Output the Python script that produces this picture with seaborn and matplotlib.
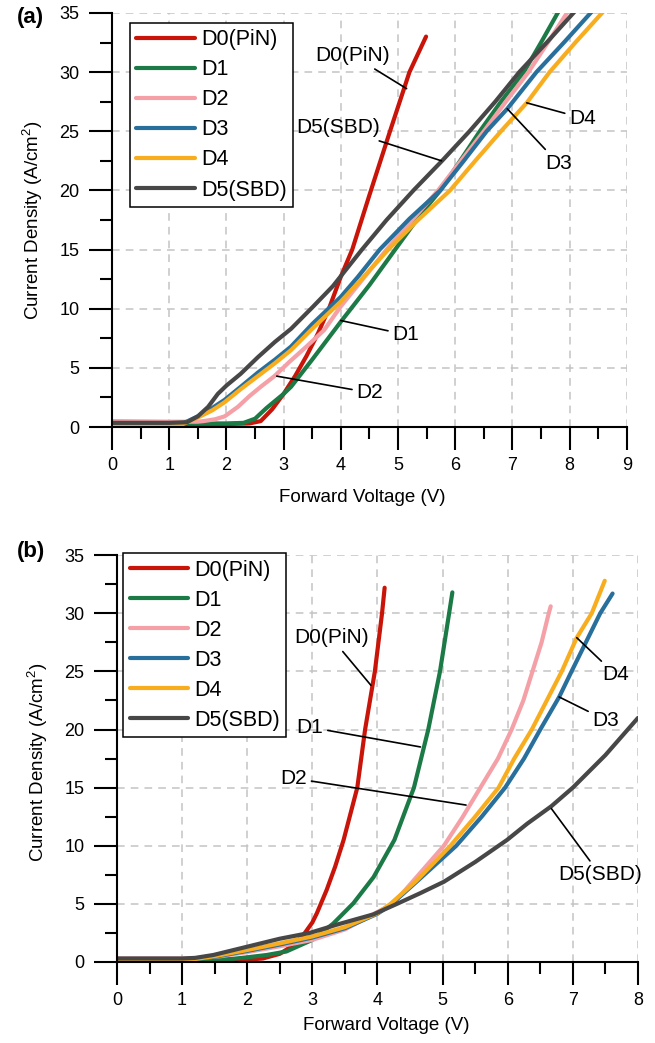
import numpy as np
import pandas as pd
import matplotlib
matplotlib.use("Agg")
import matplotlib.pyplot as plt
from matplotlib.ticker import MultipleLocator
import seaborn as sns

# ---------------- data: panel (a) ----------------
devices = ["D0(PiN)", "D1", "D2", "D3", "D4", "D5(SBD)"]
colors = ["#c81409", "#1b7a45", "#f4a0a6", "#28709b", "#f8ad1f", "#474747"]

a_D0_V = [0, 0.5, 1.0, 1.5, 2.0, 2.4, 2.6, 2.8, 3.0, 3.2, 3.4, 3.6, 3.8, 4.0, 4.2, 4.5, 4.86, 5.2, 5.49]
a_D0_J = [0.25, 0.25, 0.25, 0.25, 0.25, 0.3, 0.5, 1.5, 2.8, 4.3, 6.0, 7.9, 10.1, 12.7, 15.0, 19.6, 25.0, 30.0, 33.0]

a_D1_V = [0, 1.0, 2.0, 2.3, 2.5, 2.7, 3.0, 3.13, 3.5, 4.0, 4.5, 4.95, 5.4, 5.74, 6.1, 6.43, 6.8, 7.2, 7.5, 7.85]
a_D1_J = [0.3, 0.3, 0.3, 0.35, 0.7, 1.6, 2.8, 3.4, 5.7, 8.9, 12.0, 15.0, 18.0, 20.0, 22.6, 25.0, 27.5, 30.0, 32.5, 35.5]

a_D2_V = [0, 1.0, 1.5, 1.6, 1.8, 1.97, 2.2, 2.4, 2.6, 2.84, 3.1, 3.4, 3.71, 4.0, 4.4, 4.8, 5.25, 5.7, 6.1, 6.5, 6.9, 7.28, 7.62, 8.02]
a_D2_J = [0.5, 0.45, 0.45, 0.5, 0.65, 0.9, 1.7, 2.6, 3.4, 4.3, 5.5, 6.8, 8.2, 10.2, 12.6, 15.0, 17.5, 20.0, 22.5, 25.0, 27.6, 30.0, 32.5, 35.5]

a_D3_V = [0, 1.0, 1.24, 1.5, 1.75, 1.97, 2.25, 2.55, 2.85, 3.13, 3.5, 4.0, 4.3, 4.68, 5.2, 5.74, 6.15, 6.55, 6.91, 7.42, 7.9, 8.46]
a_D3_J = [0.2, 0.2, 0.3, 0.9, 1.6, 2.3, 3.4, 4.6, 5.7, 6.8, 8.7, 11.0, 12.7, 15.0, 17.6, 20.0, 22.5, 25.0, 26.9, 30.0, 32.5, 35.5]

a_D4_V = [0, 1.0, 1.24, 1.5, 1.75, 1.97, 2.25, 2.55, 2.85, 3.13, 3.5, 4.0, 4.4, 4.83, 5.35, 5.91, 6.35, 6.8, 7.25, 7.65, 8.1, 8.66]
a_D4_J = [0.15, 0.15, 0.25, 0.8, 1.4, 2.1, 3.2, 4.3, 5.4, 6.5, 8.3, 10.6, 12.7, 15.0, 17.5, 20.0, 22.5, 25.0, 27.4, 30.0, 32.5, 35.5]

a_D5_V = [0, 1.0, 1.31, 1.5, 1.68, 1.85, 2.0, 2.25, 2.55, 2.85, 3.13, 3.5, 3.86, 4.37, 4.8, 5.27, 5.77, 6.25, 6.7, 7.12, 7.6, 8.16]
a_D5_J = [0.35, 0.35, 0.4, 0.9, 1.7, 2.8, 3.5, 4.5, 5.9, 7.2, 8.3, 10.1, 11.9, 15.0, 17.5, 20.0, 22.5, 25.0, 27.5, 30.0, 32.5, 35.5]

# ---------------- data: panel (b) ----------------
b_D0_V = [0, 1.0, 2.0, 2.24, 2.5, 2.7, 2.86, 3.0, 3.07, 3.22, 3.35, 3.48, 3.69, 3.81, 3.96, 4.07, 4.11]
b_D0_J = [0.2, 0.2, 0.2, 0.3, 0.7, 1.4, 2.3, 3.4, 4.2, 6.2, 8.2, 10.5, 15.0, 20.0, 25.0, 30.0, 32.2]

b_D1_V = [0, 1.0, 1.75, 2.0, 2.3, 2.6, 3.0, 3.32, 3.63, 3.94, 4.26, 4.56, 4.78, 4.96, 5.1, 5.15]
b_D1_J = [0.2, 0.2, 0.25, 0.4, 0.6, 0.9, 1.9, 3.3, 5.05, 7.3, 10.5, 15.0, 20.0, 25.0, 30.0, 31.8]

b_D2_V = [0, 1.0, 1.3, 1.6, 2.0, 2.5, 3.0, 3.5, 4.0, 4.24, 4.6, 5.02, 5.3, 5.58, 5.85, 6.06, 6.24, 6.38, 6.52, 6.63, 6.66]
b_D2_J = [0.3, 0.3, 0.35, 0.5, 0.85, 1.35, 1.9, 2.8, 4.3, 5.0, 7.3, 10.0, 12.4, 15.0, 17.5, 20.0, 22.5, 25.0, 27.5, 30.0, 30.6]

b_D3_V = [0, 1.0, 1.2, 1.5, 2.0, 2.5, 3.0, 3.5, 4.0, 4.2, 4.6, 5.21, 5.6, 5.96, 6.25, 6.5, 6.79, 6.98, 7.2, 7.42, 7.61]
b_D3_J = [0.2, 0.2, 0.25, 0.45, 0.95, 1.5, 2.1, 2.9, 4.15, 4.9, 6.9, 10.0, 12.5, 15.0, 17.5, 20.0, 22.8, 25.0, 27.5, 30.0, 31.7]

b_D4_V = [0, 1.0, 1.2, 1.5, 2.0, 2.5, 3.0, 3.5, 4.0, 4.2, 4.6, 5.12, 5.5, 5.86, 6.1, 6.37, 6.6, 6.83, 7.06, 7.29, 7.49]
b_D4_J = [0.2, 0.2, 0.25, 0.5, 1.03, 1.6, 2.2, 3.0, 4.2, 5.0, 7.0, 10.0, 12.5, 15.0, 17.5, 20.0, 22.5, 25.0, 27.9, 30.0, 32.8]

b_D5_V = [0, 0.5, 1.0, 1.2, 1.48, 1.99, 2.5, 2.96, 3.37, 3.94, 4.3, 4.65, 5.02, 5.5, 5.99, 6.3, 6.67, 7.0, 7.5, 8.0]
b_D5_J = [0.3, 0.3, 0.3, 0.35, 0.6, 1.3, 2.0, 2.5, 3.2, 4.1, 5.0, 5.9, 6.9, 8.6, 10.5, 11.9, 13.4, 15.0, 17.8, 21.0]

x_label = "Forward Voltage (V)"
y_label = r"Current Density (A/cm$^{2}$)"

# annotations: (text, text position, point on curve)
a_notes = [("D0(PiN)", (4.21, 31.4), (5.15, 28.6)),
           ("D5(SBD)", (3.95, 25.3), (5.76, 22.5)),
           ("D4", (8.23, 26.1), (7.25, 27.4)),
           ("D3", (7.80, 22.3), (6.91, 26.9)),
           ("D1", (5.14, 7.8), (4.0, 9.0)),
           ("D2", (4.51, 2.9), (2.88, 4.3))]
b_notes = [("D0(PiN)", (3.29, 27.9), (3.90, 23.8)),
           ("D1", (2.96, 20.2), (4.66, 18.5)),
           ("D2", (2.71, 15.8), (5.36, 13.5)),
           ("D4", (7.66, 24.7), (7.06, 27.9)),
           ("D3", (7.51, 20.8), (6.79, 22.8)),
           ("D5(SBD)", (7.42, 7.5), (6.67, 13.2))]


def frame(prefix):
    g = globals()
    parts = []
    for i, d in enumerate(devices):
        v = g[f"{prefix}_D{i}_V"]
        j = g[f"{prefix}_D{i}_J"]
        parts.append(pd.DataFrame({"V": v, "J": j, "device": d}))
    return pd.concat(parts, ignore_index=True)


sns.set_theme(style="white")
plt.rcParams["font.family"] = ["Liberation Sans", "DejaVu Sans"]
plt.rcParams["mathtext.fontset"] = "custom"
plt.rcParams["mathtext.rm"] = "Liberation Sans"
plt.rcParams["mathtext.it"] = "Liberation Sans:italic"
plt.rcParams["lines.solid_capstyle"] = "round"
plt.rcParams["text.color"] = "black"
plt.rcParams["axes.labelcolor"] = "black"

fig = plt.figure(figsize=(6.55, 10.43), dpi=100)
ax_a = fig.add_axes([0.171, 0.5906, 0.786, 0.397])
ax_b = fig.add_axes([0.1786, 0.0777, 0.7954, 0.390])

palette = dict(zip(devices, colors))


def draw(ax, df, xmax, notes, leg_anchor, xl_coords, yl_coords):
    sns.lineplot(data=df, x="V", y="J", hue="device", hue_order=devices,
                 palette=palette, sort=False, estimator=None, linewidth=3.0,
                 ax=ax, legend=True)
    ax.set_xlim(0, xmax)
    ax.set_ylim(0, 35)
    ax.xaxis.set_major_locator(MultipleLocator(1))
    ax.xaxis.set_minor_locator(MultipleLocator(0.5))
    ax.yaxis.set_major_locator(MultipleLocator(5))
    ax.yaxis.set_minor_locator(MultipleLocator(2.5))
    for s in ["top", "right"]:
        ax.spines[s].set_visible(False)
    for s in ["left", "bottom"]:
        ax.spines[s].set_linewidth(1.5)
        ax.spines[s].set_color("black")
    ax.tick_params(axis="both", which="both", bottom=True, left=True,
                   top=False, right=False)
    ax.tick_params(axis="both", which="major", direction="out", length=16.5,
                   width=1.5, color="black", labelsize=13, labelcolor="black")
    ax.tick_params(axis="x", which="major", pad=5)
    ax.tick_params(axis="y", which="major", pad=7)
    ax.tick_params(axis="both", which="minor", direction="out", length=8.5,
                   width=1.5, color="black")
    ax.grid(True, which="major", color="#c3c3c3", linestyle=(0, (5, 4)), linewidth=1.1)
    ax.set_axisbelow(True)
    fig.canvas.draw()
    xg = ax.get_xgridlines()
    yg = ax.get_ygridlines()
    xg[-1].set_visible(False)
    yg[-1].set_visible(False)

    ax.set_xlabel(x_label, fontsize=13.5, va="center", color="black")
    ax.set_ylabel(y_label, fontsize=13.5, va="center", color="black")
    ax.xaxis.set_label_coords(*xl_coords)
    ax.yaxis.set_label_coords(*yl_coords)

    handles, labels = ax.get_legend_handles_labels()
    for h in handles:
        h.set_linewidth(3.0)
    ax.legend(handles, labels, loc="upper left", bbox_to_anchor=leg_anchor,
              borderaxespad=0, fontsize=15.5, frameon=True, fancybox=False,
              edgecolor="black", framealpha=1, handlelength=2.7,
              handletextpad=0.3, labelspacing=0.42, borderpad=0.3,
              labelcolor="black")
    ax.get_legend().get_frame().set_linewidth(1.1)

    for text, tpos, xy in notes:
        ax.annotate(text, xy=xy, xytext=tpos, ha="center", va="center",
                    fontsize=15, color="black",
                    arrowprops=dict(arrowstyle="-", color="black", lw=1.2,
                                    shrinkA=1, shrinkB=0))


draw(ax_a, frame("a"), 9, a_notes, (0.035, 0.976), (0.487, -0.171), (-0.153, 0.5))
draw(ax_b, frame("b"), 8, b_notes, (0.012, 1.005), (0.516, -0.155), (-0.152, 0.49))

fig.text(30 / 655, 1 - 18 / 1043, "(a)", fontsize=16, fontweight="bold",
         ha="center", va="center", color="black")
fig.text(31 / 655, 1 - 552 / 1043, "(b)", fontsize=16, fontweight="bold",
         ha="center", va="center", color="black")

fig.savefig("out.png", dpi=100)
